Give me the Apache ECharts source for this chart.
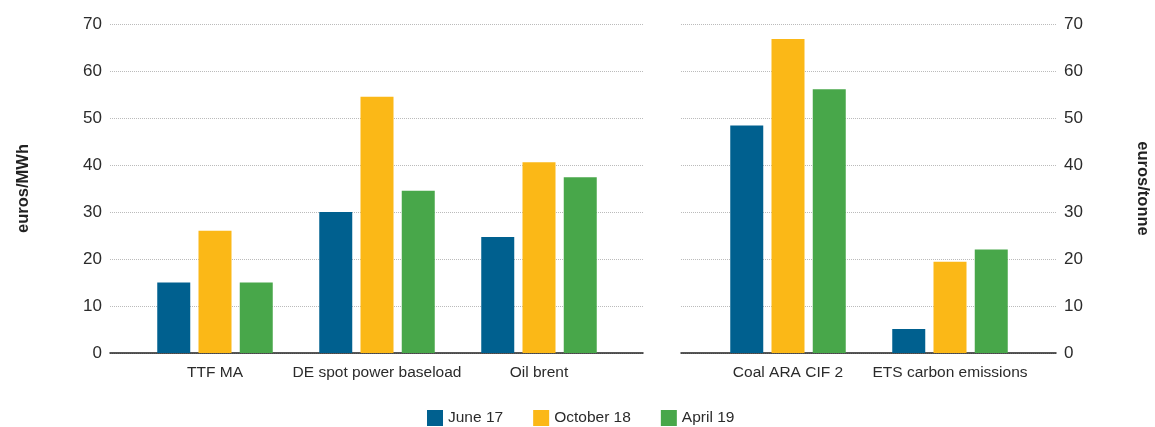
<!DOCTYPE html>
<html>
<head>
    <meta charset="utf-8">
    <title>Energy prices</title>
    <script src="https://cdn.jsdelivr.net/npm/echarts@6/dist/echarts.min.js"></script>
    <style>
        html, body { margin: 0; padding: 0; background: #fff; }
        #chart1 { width: 1155px; height: 427px; }
    </style>
</head>
<body>
<div id="chart1"></div>
<script type="text/javascript">
    // 数据
    var leftCategories = ['TTF MA', 'DE spot power baseload', 'Oil brent'];
    var rightCategories = ['Coal ARA CIF 2', 'ETS carbon emissions'];
    var seriesNames = ['June 17', 'October 18', 'April 19'];

    var june17Left = [15, 30, 24.7];
    var october18Left = [26, 54.5, 40.6];
    var april19Left = [15, 34.5, 37.4];

    var june17Right = [48.4, 5.1];
    var october18Right = [66.8, 19.4];
    var april19Right = [56.1, 22];

    var colors = ['#00608f', '#fbb817', '#48a74a'];
    var font = 'Liberation Sans, Arial, sans-serif';

    var myChart1 = echarts.init(document.getElementById('chart1'));

    var leftData = [june17Left, october18Left, april19Left];
    var rightData = [june17Right, october18Right, april19Right];

    // 外层grid画网格线和基线, 内层grid放柱子
    var grids = [
        {left: 110, right: 512, top: 24, bottom: 74},
        {left: 134, right: 535, top: 24, bottom: 74},
        {left: 681, right: 99, top: 24, bottom: 74},
        {left: 707, right: 124, top: 24, bottom: 74}
    ];

    function baseXAxis(idx) {
        return {
            type: 'value', gridIndex: idx, min: 0, max: 1,
            axisLine: {show: true, lineStyle: {color: '#222', width: 1.5}},
            axisTick: {show: false}, axisLabel: {show: false}, splitLine: {show: false}
        };
    }

    function catXAxis(idx, cats) {
        return {
            type: 'category', gridIndex: idx, data: cats,
            axisLine: {show: false}, axisTick: {show: false},
            axisLabel: {color: '#2b2b2b', fontFamily: font, fontSize: 15.5, margin: 12, interval: 0}
        };
    }

    function valueYAxis(idx, pos, name, rotate) {
        return {
            type: 'value', gridIndex: idx, position: pos, min: 0, max: 70, interval: 10,
            name: name, nameLocation: 'middle', nameGap: 78, nameRotate: rotate,
            nameTextStyle: {color: '#222', fontFamily: font, fontSize: 16.5, fontWeight: 'bold'},
            axisLine: {show: false}, axisTick: {show: false},
            axisLabel: {color: '#2b2b2b', fontFamily: font, fontSize: 17, margin: 8},
            splitLine: {show: true, lineStyle: {color: '#bbb', type: 'dotted', width: 1}}
        };
    }

    function hiddenYAxis(idx) {
        return {type: 'value', gridIndex: idx, min: 0, max: 70, show: false, splitLine: {show: false}};
    }

    var series = [];
    for (var i = 0; i < 3; i++) {
        series.push({
            name: seriesNames[i], type: 'bar', xAxisIndex: 1, yAxisIndex: 1,
            data: leftData[i], barWidth: 33, barGap: '25%',
            itemStyle: {color: colors[i]}
        });
    }
    for (var j = 0; j < 3; j++) {
        series.push({
            name: seriesNames[j], type: 'bar', xAxisIndex: 3, yAxisIndex: 3,
            data: rightData[j], barWidth: 33, barGap: '25%',
            itemStyle: {color: colors[j]}
        });
    }

    myChart1.setOption({
        animation: false,
        grid: grids,
        legend: {
            data: seriesNames,
            left: 422, bottom: -4,
            itemWidth: 16, itemHeight: 16, itemGap: 30,
            icon: 'rect',
            textStyle: {color: '#2b2b2b', fontFamily: font, fontSize: 15.5}
        },
        xAxis: [
            baseXAxis(0),
            catXAxis(1, leftCategories),
            baseXAxis(2),
            catXAxis(3, rightCategories)
        ],
        yAxis: [
            valueYAxis(0, 'left', 'euros/MWh', 90),
            hiddenYAxis(1),
            valueYAxis(2, 'right', 'euros/tonne', -90),
            hiddenYAxis(3)
        ],
        series: series
    });
</script>
</body>
</html>
